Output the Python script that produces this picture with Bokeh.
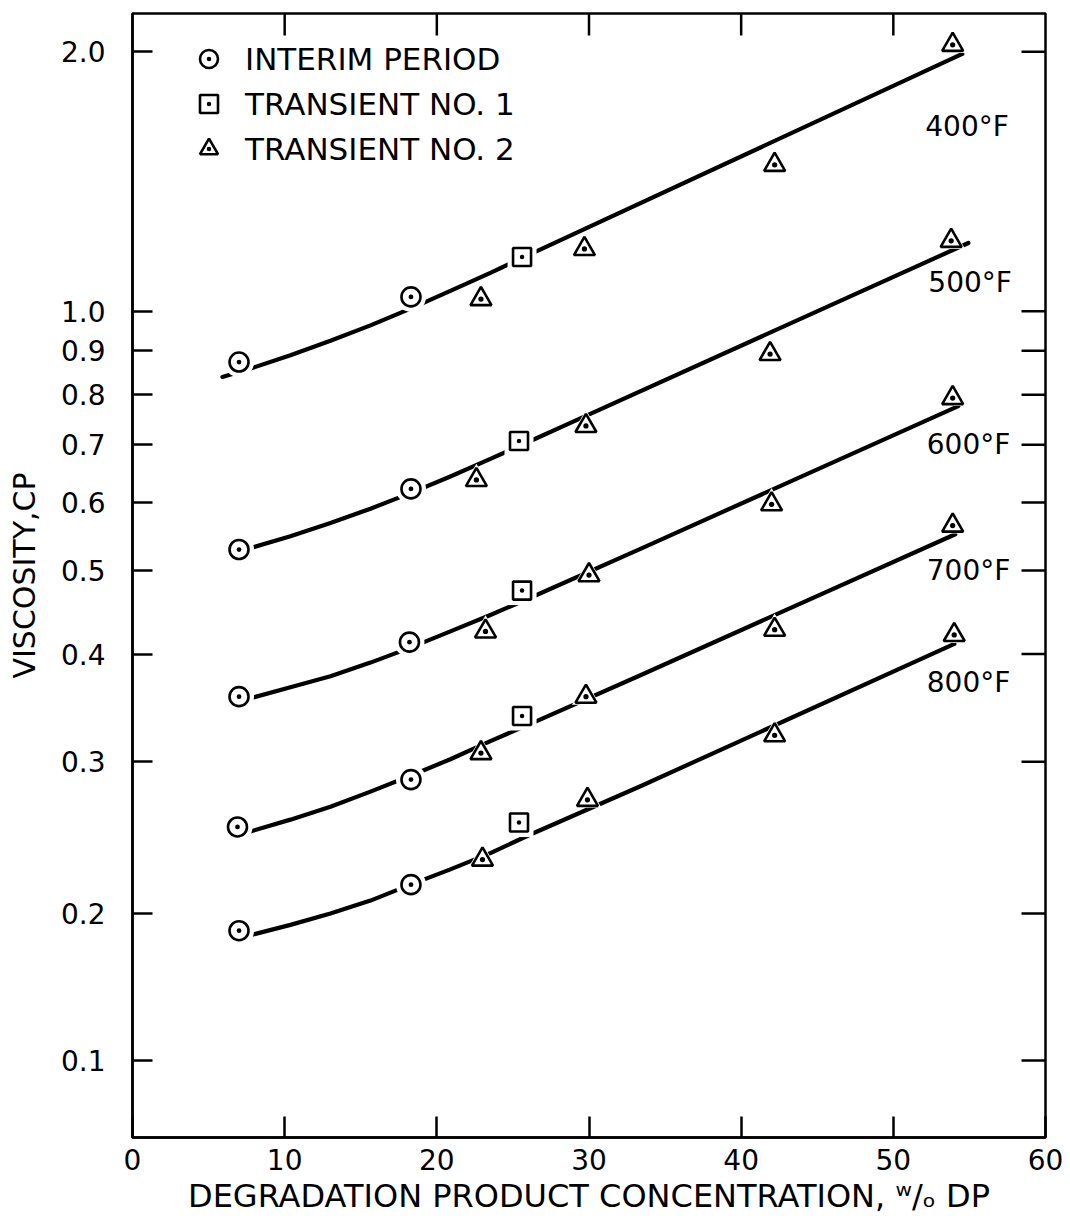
from bokeh.plotting import figure
from bokeh.models import (FixedTicker, Range1d, Legend, LegendItem, ColumnDataSource)
from bokeh.core.properties import value
from bokeh.embed import file_html
from bokeh.resources import INLINE
import math

FONT = "DejaVu Sans"

# ---------------- data ----------------
# Interim period (circles), pairs per temperature 400..800 F
interim_x = [7.0, 18.3, 7.0, 18.3, 7.0, 18.2, 6.9, 18.3, 7.0, 18.3]
interim_y = [0.873, 1.039, 0.529, 0.622, 0.357, 0.413, 0.252, 0.286, 0.191, 0.216]

# Transient No. 1 (squares)
trans1_x = [25.6, 25.4, 25.6, 25.6, 25.4]
trans1_y = [1.156, 0.707, 0.474, 0.339, 0.255]

# Transient No. 2 (triangles)
trans2_x = [22.9, 29.7, 42.2, 53.9,
            22.6, 29.8, 41.9, 53.8,
            23.2, 30.0, 42.0, 53.9,
            22.9, 29.8, 42.2, 53.9,
            23.0, 29.9, 42.2, 54.0]
trans2_y = [1.033, 1.181, 1.479, 2.038,
            0.637, 0.736, 0.892, 1.207,
            0.425, 0.494, 0.597, 0.793,
            0.307, 0.357, 0.427, 0.564,
            0.231, 0.271, 0.322, 0.421]

# fitted curves
curve_400_x = [5.91, 7.75, 10.38, 13.01, 15.64, 18.27, 20.89, 23.52, 26.15, 54.53]
curve_400_y = [0.839, 0.858, 0.889, 0.924, 0.963, 1.007, 1.056, 1.108, 1.165, 1.989]
curve_500_x = [7.75, 10.38, 13.01, 15.64, 18.27, 20.89, 23.52, 26.15, 28.78, 54.93]
curve_500_y = [0.531, 0.548, 0.568, 0.590, 0.615, 0.643, 0.674, 0.707, 0.742, 1.200]
curve_600_x = [7.88, 10.38, 13.01, 15.64, 18.27, 20.89, 23.52, 26.15, 33.38, 54.27]
curve_600_y = [0.356, 0.366, 0.377, 0.391, 0.407, 0.425, 0.444, 0.465, 0.530, 0.776]
curve_700_x = [7.75, 10.38, 13.01, 15.64, 18.27, 20.89, 23.52, 26.15, 33.38, 54.07]
curve_700_y = [0.249, 0.257, 0.266, 0.277, 0.289, 0.302, 0.317, 0.332, 0.378, 0.551]
curve_800_x = [7.88, 10.38, 13.01, 15.64, 18.27, 20.89, 23.52, 26.15, 33.38, 54.01]
curve_800_y = [0.189, 0.194, 0.200, 0.207, 0.216, 0.225, 0.235, 0.247, 0.281, 0.411]

temp_labels = ["400°F", "500°F", "600°F", "700°F", "800°F"]
temp_label_y = [1.638, 1.080, 0.701, 0.500, 0.371]
temp_label_x = [52.1, 52.3, 52.2, 52.2, 52.2]

series_names = ["INTERIM PERIOD", "TRANSIENT NO. 1", "TRANSIENT NO. 2"]

X_MIN, X_MAX = 0, 60
Y_MIN, Y_MAX = 0.1099, 2.216
x_ticks = [0, 10, 20, 30, 40, 50, 60]
y_ticks = [0.135, 0.2, 0.3, 0.4, 0.5, 0.6, 0.7, 0.8, 0.9, 1.0, 2.0]
y_tick_labels = ["0.1", "0.2", "0.3", "0.4", "0.5", "0.6", "0.7", "0.8", "0.9", "1.0", "2.0"]

# ---------------- figure ----------------
p = figure(frame_width=913, frame_height=1124,
           x_range=Range1d(X_MIN, X_MAX), y_range=Range1d(Y_MIN, Y_MAX),
           y_axis_type="log", output_backend="svg", toolbar_location=None,
           min_border_left=132, min_border_right=25, min_border_top=13,
           min_border_bottom=93, background_fill_color="white",
           border_fill_color="white")
p.grid.visible = False
p.outline_line_color = "black"
p.outline_line_width = 2.5

overrides = {t: l for t, l in zip(y_ticks, y_tick_labels)}

def style_axis(ax, tick_len):
    ax.axis_line_color = "black"
    ax.axis_line_width = 2.5
    ax.major_tick_in = tick_len
    ax.major_tick_out = 0
    ax.major_tick_line_width = 2.5
    ax.major_tick_line_color = "black"
    ax.minor_tick_line_color = None
    ax.major_label_text_font = FONT
    ax.major_label_text_color = "black"
    ax.major_label_text_font_size = "28px"
    ax.axis_label_text_font = FONT
    ax.axis_label_text_font_style = "normal"
    ax.axis_label_text_color = "black"

# left axis
yax = p.yaxis[0]
yax.ticker = FixedTicker(ticks=y_ticks)
yax.major_label_overrides = overrides
style_axis(yax, 20)
yax.major_label_standoff = 27
yax.axis_label = "VISCOSITY,CP"
yax.axis_label_text_font_size = "30px"
yax.axis_label_standoff = 16

# bottom axis
xax = p.xaxis[0]
xax.ticker = FixedTicker(ticks=x_ticks)
style_axis(xax, 21)
xax.major_label_standoff = 11
xax.axis_label = "DEGRADATION PRODUCT CONCENTRATION, ʷ/ₒ DP"
xax.axis_label_text_font_size = "32px"
xax.axis_label_standoff = 4

# inward tick marks on the right and top edges (dash markers clipped by the frame)
p.scatter([X_MAX] * len(y_ticks), y_ticks, marker="dash", size=48,
          line_color="black", line_width=2.5)
p.scatter(x_ticks[1:-1], [Y_MAX] * (len(x_ticks) - 2), marker="dash", size=44,
          angle=math.pi / 2, line_color="black", line_width=2.5)

# ---------------- curves ----------------
for cx, cy in [(curve_400_x, curve_400_y), (curve_500_x, curve_500_y),
               (curve_600_x, curve_600_y), (curve_700_x, curve_700_y),
               (curve_800_x, curve_800_y)]:
    p.line(cx, cy, line_color="black", line_width=4.2, line_cap="round", line_join="round")

# white halos that break the curves around each marker
p.scatter(interim_x, interim_y, marker="circle", size=30, fill_color="white", line_color=None)
p.scatter(trans1_x, trans1_y, marker="square", size=29, fill_color="white", line_color=None)
p.scatter(trans2_x, trans2_y, marker="triangle", size=28, fill_color="white", line_color=None)

# markers
r_int = p.scatter(interim_x, interim_y, marker="circle_dot", size=19, fill_color="white",
                  line_color="black", line_width=2.6)
r_t1 = p.scatter(trans1_x, trans1_y, marker="square_dot", size=18, fill_color="white",
                 line_color="black", line_width=2.6)
r_t2 = p.scatter(trans2_x, trans2_y, marker="triangle_dot", size=21, fill_color="white",
                 line_color="black", line_width=2.6)

# temperature labels
src = ColumnDataSource(dict(x=temp_label_x, y=temp_label_y, t=temp_labels))
p.text(x="x", y="y", text="t", source=src, text_font=value(FONT), text_font_size="28px",
       text_align="left", text_baseline="middle", text_color="black")

# legend
legend = Legend(items=[LegendItem(label=series_names[0], renderers=[r_int]),
                       LegendItem(label=series_names[1], renderers=[r_t1]),
                       LegendItem(label=series_names[2], renderers=[r_t2])],
                location=(54, 966), orientation="vertical",
                glyph_width=45, glyph_height=45, spacing=-3, padding=0, margin=0,
                label_standoff=14, label_text_font=FONT, label_text_font_size="31px",
                label_text_color="black", label_text_baseline="middle",
                border_line_color=None, background_fill_alpha=0)
p.add_layout(legend, "center")

open("out.html", "w").write(file_html(p, INLINE))
